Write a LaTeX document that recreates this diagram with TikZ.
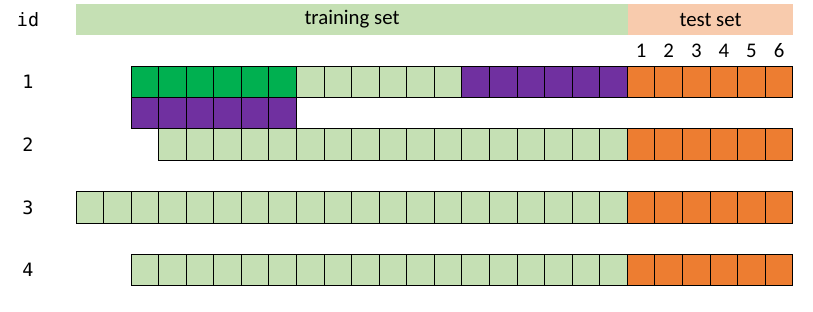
\documentclass[tikz,border=0pt]{standalone}
\usepackage{fontspec}
\setmainfont{Carlito}
\newfontfamily\idfont{DejaVu Sans Mono}
\usetikzlibrary{positioning}

\definecolor{fullgreen}{HTML}{00B050}
\definecolor{purp}{HTML}{7030A0}
\definecolor{testorange}{HTML}{ED7D31}
\definecolor{trainlight}{HTML}{C5E0B4}
\definecolor{testlight}{HTML}{F8CBAD}

\begin{document}
\begin{tikzpicture}[
  x=0.5pt, y=-0.5pt,
  cell/.style={draw, line width=0.5pt, fill=#1, minimum width=13.785pt, minimum height=15.7pt,
               inner sep=0pt, outer sep=0pt, anchor=north west},
  hdr/.style={fill=#1, minimum height=15.5pt, inner sep=0pt, font=\fontsize{10.4}{12}\selectfont},
  idlab/.style={font=\idfont\fontsize{9.2}{11}\selectfont},
  num/.style={font=\fontsize{10.4}{12}\selectfont},
]
\useasboundingbox (0,0) rectangle (813,311);

% ===== Header =====
\node[idlab] (id) at (28, 19.5) {id};
\node[hdr=trainlight, minimum width=276pt] (train) at (352, 19.5) {training set};
\node[hdr=testlight, minimum width=82.5pt] (test) at (710.5, 19.5) {test set};

% ===== Row 1 =====
\node[idlab] (row1) at (28, 81.7) {1};
\foreach \i in {2,...,7}   \node[cell=fullgreen]  (r1c\i) at ({76+27.57*\i}, 66) {};
\foreach \i in {8,...,13}  \node[cell=trainlight] (r1c\i) at ({76+27.57*\i}, 66) {};
\foreach \i in {14,...,19} \node[cell=purp]       (r1c\i) at ({76+27.57*\i}, 66) {};
\foreach \i in {20,...,25} \node[cell=testorange] (r1c\i) at ({76+27.57*\i}, 66) {};
\foreach \i in {2,...,7}   \node[cell=purp]       (r1b\i) at ({76+27.57*\i}, 97.4) {};

% test step numbers
\foreach \i [evaluate=\i as \k using int(\i-19)] in {20,...,25}
  \node[num] (step\k) at ({76+27.57*(\i+0.5)}, 51) {\k};

% ===== Row 2 =====
\node[idlab] (row2) at (28, 144.5) {2};
\foreach \i in {3,...,19}  \node[cell=trainlight] (r2c\i) at ({76+27.57*\i}, 128.8) {};
\foreach \i in {20,...,25} \node[cell=testorange] (r2c\i) at ({76+27.57*\i}, 128.8) {};

% ===== Row 3 =====
\node[idlab] (row3) at (28, 207.3) {3};
\foreach \i in {0,...,19}  \node[cell=trainlight] (r3c\i) at ({76+27.57*\i}, 191.6) {};
\foreach \i in {20,...,25} \node[cell=testorange] (r3c\i) at ({76+27.57*\i}, 191.6) {};

% ===== Row 4 =====
\node[idlab] (row4) at (28, 270.1) {4};
\foreach \i in {2,...,19}  \node[cell=trainlight] (r4c\i) at ({76+27.57*\i}, 254.4) {};
\foreach \i in {20,...,25} \node[cell=testorange] (r4c\i) at ({76+27.57*\i}, 254.4) {};

\end{tikzpicture}
\end{document}
